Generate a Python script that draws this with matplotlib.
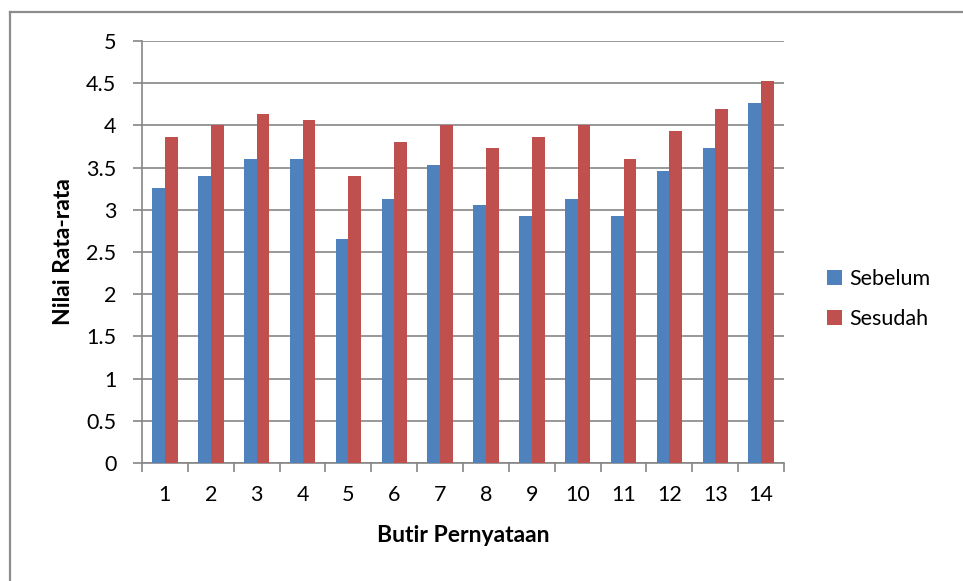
import numpy as np
import matplotlib.pyplot as plt
from matplotlib.lines import Line2D

plt.rcParams['font.family'] = ['Lato', 'DejaVu Sans']

# data
butir = [str(i) for i in range(1, 15)]
sebelum = [3.26, 3.40, 3.60, 3.60, 2.66, 3.13, 3.53, 3.06, 2.93, 3.13, 2.93, 3.46, 3.73, 4.26]
sesudah = [3.86, 4.00, 4.13, 4.06, 3.40, 3.80, 4.00, 3.73, 3.86, 4.00, 3.60, 3.93, 4.20, 4.53]
yticks = [0, 0.5, 1, 1.5, 2, 2.5, 3, 3.5, 4, 4.5, 5]
ytick_labels = ['0', '0.5', '1', '1.5', '2', '2.5', '3', '3.5', '4', '4.5', '5']

grid_col = '#868686'
fs = 15.5

fig = plt.figure(figsize=(9.63, 5.81), dpi=100)
ax = fig.add_axes([0.1475, 0.2031, 0.6667, 0.7263])

x = np.arange(len(butir))
w = 0.277
ax.bar(x - w/2, sebelum, w, color='#4F81BD', label='Sebelum', zorder=3)
ax.bar(x + w/2, sesudah, w, color='#C0504D', label='Sesudah', zorder=3)

ax.set_xlim(-0.5, len(butir) - 0.5)
ax.set_ylim(0, 5)
ax.set_yticks(yticks)
ax.set_yticklabels(ytick_labels, fontsize=fs)
ax.set_xticks(x)
ax.set_xticklabels(butir, fontsize=fs)
ax.tick_params(axis='x', length=0, pad=16)
ax.set_xticks(np.arange(-0.5, len(butir)), minor=True)
ax.tick_params(axis='x', which='minor', length=6.5, direction='out', color=grid_col, width=1.2)
ax.tick_params(axis='y', length=6.5, direction='out', color=grid_col, width=1.2, pad=12)

ax.yaxis.grid(True, color=grid_col, linewidth=1.2, zorder=0)
ax.set_axisbelow(True)
for s in ['top', 'right']:
    ax.spines[s].set_visible(False)
for s in ['left', 'bottom']:
    ax.spines[s].set_color(grid_col)
    ax.spines[s].set_linewidth(1.2)

ax.set_ylabel('Nilai Rata-rata', fontsize=16.5, fontweight='bold')
ax.yaxis.set_label_coords(-0.106, 0.5)
ax.set_xlabel('Butir Pernyataan', fontsize=16.5, fontweight='bold')
ax.xaxis.set_label_coords(0.5, -0.148)

fig.legend(loc='center left', bbox_to_anchor=(0.8588, 0.4854), frameon=False,
           fontsize=fs, handlelength=0.7, handleheight=0.7, labelspacing=0.95,
           handletextpad=0.33, borderpad=0, borderaxespad=0)

# chart border (only left and top edges fall inside the picture)
fig.add_artist(Line2D([0.0099, 0.0099], [0.0, 0.9802], transform=fig.transFigure,
                      color='#8C8C8C', linewidth=1.6))
fig.add_artist(Line2D([0.0099, 1.0], [0.9802, 0.9802], transform=fig.transFigure,
                      color='#8C8C8C', linewidth=1.6))

fig.savefig('out.png', dpi=100)
